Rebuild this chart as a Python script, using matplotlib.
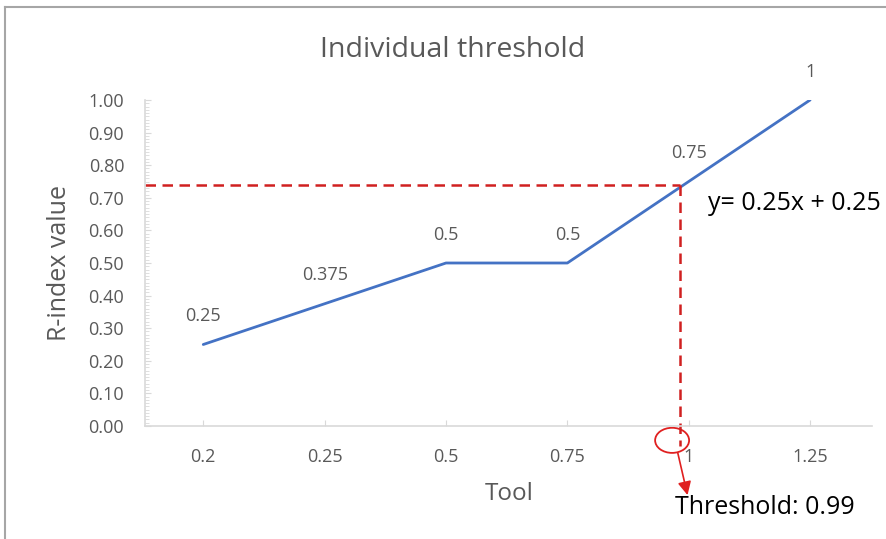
import matplotlib
matplotlib.use("Agg")
import matplotlib.pyplot as plt
from matplotlib.patches import Ellipse
from matplotlib.lines import Line2D
from matplotlib.ticker import MultipleLocator, FormatStrFormatter

categories = ["0.2", "0.25", "0.5", "0.75", "1", "1.25"]
values = [0.25, 0.375, 0.5, 0.5, 0.75, 1.0]
labels = ["0.25", "0.375", "0.5", "0.5", "0.75", "1"]
threshold_y = 0.74
threshold_x = 3.93  # category-index position of threshold

plt.rcParams['font.family'] = ['Open Sans', 'DejaVu Sans']
gray = '#595959'

fig = plt.figure(figsize=(8.86, 5.39), dpi=100)
ax = fig.add_axes([145/886, 1-426/539, (872-145)/886, (426-100)/539])

x = list(range(len(categories)))
ax.plot(x, values, color='#4472C4', lw=2, solid_capstyle='round')
for xi, v, lab in zip(x, values, labels):
    ax.annotate(lab, (xi, v), xytext=(0, 20.5), textcoords='offset points',
                ha='center', va='center', color=gray, fontsize=13)

ax.set_xlim(-0.48, 5.51)
ax.set_ylim(0, 1)
ax.set_xticks(x)
ax.set_xticklabels(categories)
ax.yaxis.set_major_locator(MultipleLocator(0.1))
ax.yaxis.set_minor_locator(MultipleLocator(0.01))
ax.yaxis.set_major_formatter(FormatStrFormatter('%.2f'))
for s in ['top', 'right']:
    ax.spines[s].set_visible(False)
for s in ['left', 'bottom']:
    ax.spines[s].set_color('#D9D9D9')
    ax.spines[s].set_linewidth(1.2)
ax.tick_params(axis='y', which='both', direction='in', color='#D9D9D9', labelcolor=gray,
               labelsize=13, pad=15)
ax.tick_params(axis='y', which='major', length=4)
ax.tick_params(axis='y', which='minor', length=3)
ax.tick_params(axis='x', direction='in', length=4, color='#D9D9D9', labelcolor=gray,
               labelsize=13, pad=16)

fig.text(453/886, 1-50/539, "Individual threshold", color=gray, fontsize=20.5,
         ha='center', va='center')
fig.text(60/886, 1-263/539, "R-index value", color=gray, fontsize=18,
         ha='center', va='center', rotation=90)
fig.text(509/886, 1-494/539, "Tool", color=gray, fontsize=17.5,
         ha='center', va='center')

# threshold guide lines
red = '#D02020'
ax.plot([-0.48, threshold_x], [threshold_y, threshold_y], color=red, lw=1.8,
        ls=(0, (4.2, 2.6)), clip_on=False)
ax.plot([threshold_x, threshold_x], [threshold_y, -0.062], color=red, lw=1.8,
        ls=(0, (4.2, 2.6)), clip_on=False)
ax.add_patch(Ellipse((3.863, -0.044), 0.28, 0.077, fill=False, edgecolor='#E02020',
                     lw=1.3, clip_on=False))
ax.annotate("", xy=(3.99, -0.212), xytext=(3.91, -0.083),
            arrowprops=dict(arrowstyle='-|>', color='#E02020', lw=1.2,
                            mutation_scale=20, shrinkA=0, shrinkB=0),
            annotation_clip=False)
ax.text(3.89, -0.25, "Threshold: 0.99", fontsize=18, color='black',
        ha='left', va='center', clip_on=False)
ax.text(4.16, 0.684, "y= 0.25x + 0.25", fontsize=18, color='black',
        ha='left', va='center', clip_on=False)

# outer frame
fig.add_artist(Line2D([5/886, 5/886], [0, 1-7/539], transform=fig.transFigure,
                      color='#A6A6A6', lw=1.5))
fig.add_artist(Line2D([5/886, 1], [1-7/539, 1-7/539], transform=fig.transFigure,
                      color='#A6A6A6', lw=1.5))

fig.savefig("out.png", dpi=100)
